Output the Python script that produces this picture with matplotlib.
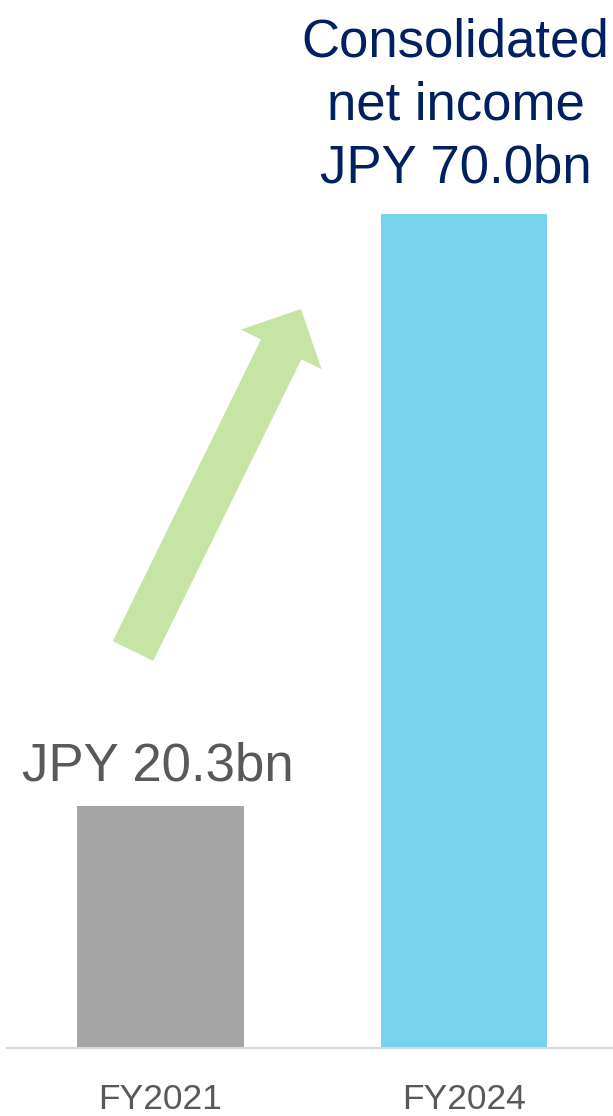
import matplotlib.pyplot as plt
from matplotlib.patches import FancyArrow

# data
years = ["FY2021", "FY2024"]
income = [20.3, 70.0]
labels = ["JPY 20.3bn", "Consolidated\nnet income\nJPY 70.0bn"]
bar_colors = ["#A6A6A6", "#77D3EC"]
label_colors = ["#595959", "#002060"]

plt.rcParams['font.family'] = ['Liberation Sans', 'DejaVu Sans']

fig = plt.figure(figsize=(6.13, 11.16), dpi=100)
ax = fig.add_axes([7/613, 68/1116, 606/613, 1048/1116])

x = range(len(years))
ax.bar(x, income, width=0.55, color=bar_colors, zorder=2)

ax.set_xlim(-0.506, 1.491)
ax.set_ylim(0, 1048/834*70.0)

# value labels above the bars
offsets = [18.7, 23]
xshift = [-2, -6]
for i, (v, lab) in enumerate(zip(income, labels)):
    ax.annotate(lab, (i, v), xytext=(xshift[i], offsets[i]), textcoords='offset points',
                ha='center', va='baseline', fontsize=38, color=label_colors[i],
                linespacing=1.33, multialignment='center')

# growth arrow (figure inches)
arrow = FancyArrow(1.33, 4.65, 1.68, 3.42, width=0.45, head_width=0.90,
                   head_length=0.45, length_includes_head=True,
                   transform=fig.dpi_scale_trans, color="#C6E5A5", lw=0, zorder=3)
fig.patches.append(arrow)

for s in ['top', 'right', 'left']:
    ax.spines[s].set_visible(False)
ax.spines['bottom'].set_color('#D9D9D9')
ax.spines['bottom'].set_linewidth(1.5)
ax.set_yticks([])
ax.set_xticks(list(x))
ax.set_xticklabels(years, fontsize=25.5, color='#595959')
ax.tick_params(axis='x', length=0, pad=25)

fig.savefig('out.png', dpi=100)
